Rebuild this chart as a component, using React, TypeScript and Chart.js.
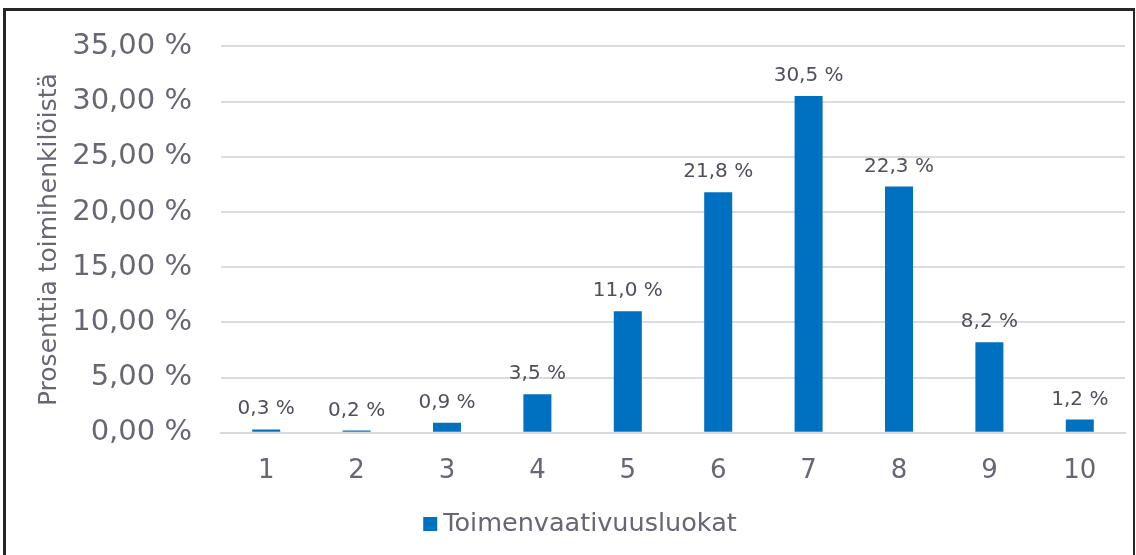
import React, { useEffect, useRef } from "react";
import { Chart, registerables } from "chart.js";

Chart.register(...registerables);

const categories = ["1", "2", "3", "4", "5", "6", "7", "8", "9", "10"];
const values = [0.3, 0.2, 0.9, 3.5, 11.0, 21.8, 30.5, 22.3, 8.2, 1.2];
const seriesLabel = "Toimenvaativuusluokat";
const axisTitle = "Prosenttia toimihenkilöistä";

const FONT = "'DejaVu Sans', Verdana, sans-serif";
const TEXT = "#666674";
const BAR = "#0070C0";

const fmt = (v: number, d: number) => v.toFixed(d).replace(".", ",") + " %";

const dataLabels = {
  id: "dataLabels",
  afterDatasetsDraw(chart: any) {
    const ctx = chart.ctx;
    const meta = chart.getDatasetMeta(0);
    const data = chart.data.datasets[0].data as number[];
    ctx.save();
    ctx.font = `20px ${FONT}`;
    ctx.fillStyle = "#50505c";
    ctx.textAlign = "center";
    ctx.textBaseline = "alphabetic";
    meta.data.forEach((el: any, i: number) => {
      ctx.fillText(fmt(data[i], 1), el.x, el.y - 15);
    });
    ctx.restore();
  },
};

const customLegend = {
  id: "customLegend",
  afterDraw(chart: any) {
    const ctx = chart.ctx;
    const ds = chart.data.datasets[0];
    ctx.save();
    ctx.font = `25.5px ${FONT}`;
    const tw = ctx.measureText(ds.label).width;
    const box = 14;
    const gap = 6;
    const total = box + gap + tw;
    const cx = 580;
    const cy = 524;
    const x0 = cx - total / 2;
    ctx.fillStyle = ds.backgroundColor;
    ctx.fillRect(x0, cy - box / 2, box, box);
    ctx.fillStyle = TEXT;
    ctx.textAlign = "left";
    ctx.textBaseline = "middle";
    ctx.fillText(ds.label, x0 + box + gap, cy);
    ctx.restore();
  },
};

export default function App() {
  const ref = useRef<HTMLCanvasElement>(null);
  useEffect(() => {
    if (!ref.current) return;
    const chart = new Chart(ref.current, {
      type: "bar",
      data: {
        labels: categories,
        datasets: [
          {
            label: seriesLabel,
            data: values,
            backgroundColor: BAR,
            categoryPercentage: 1,
            barPercentage: 0.31,
          },
        ],
      },
      options: {
        responsive: false,
        animation: false,
        layout: { padding: { top: 44, right: 11, bottom: 45, left: 0 } },
        plugins: {
          legend: { display: false },
          tooltip: { enabled: false },
        },
        scales: {
          x: {
            grid: { display: false, drawTicks: false },
            border: { color: "#d9d9d9", width: 2 },
            ticks: {
              color: TEXT,
              font: { family: FONT, size: 26 },
              padding: 23,
            },
          },
          y: {
            min: 0,
            max: 35,
            afterFit: (s: any) => {
              s.width = 221;
            },
            grid: { color: "#dcdcdc", lineWidth: 2, drawTicks: false },
            border: { display: false },
            ticks: {
              stepSize: 5,
              color: TEXT,
              font: { family: FONT, size: 29 },
              padding: 29,
              callback: (v: any) => fmt(Number(v), 2),
            },
            title: {
              display: true,
              text: axisTitle,
              color: TEXT,
              font: { family: FONT, size: 25 },
              padding: { top: 34, bottom: 0 },
            },
          },
        },
      },
      plugins: [dataLabels, customLegend],
    });
    return () => chart.destroy();
  }, []);

  return (
    <div>
      <div
        style={{
          position: "fixed",
          left: 3,
          top: 8,
          width: 1132,
          height: 600,
          boxSizing: "border-box",
          borderLeft: "3px solid #262626",
          borderTop: "3px solid #262626",
          borderRight: "2px solid #262626",
        }}
      />
      <canvas
        ref={ref}
        width={1136}
        height={555}
        style={{ position: "fixed", left: 0, top: 0, width: 1136, height: 555 }}
      />
    </div>
  );
}
